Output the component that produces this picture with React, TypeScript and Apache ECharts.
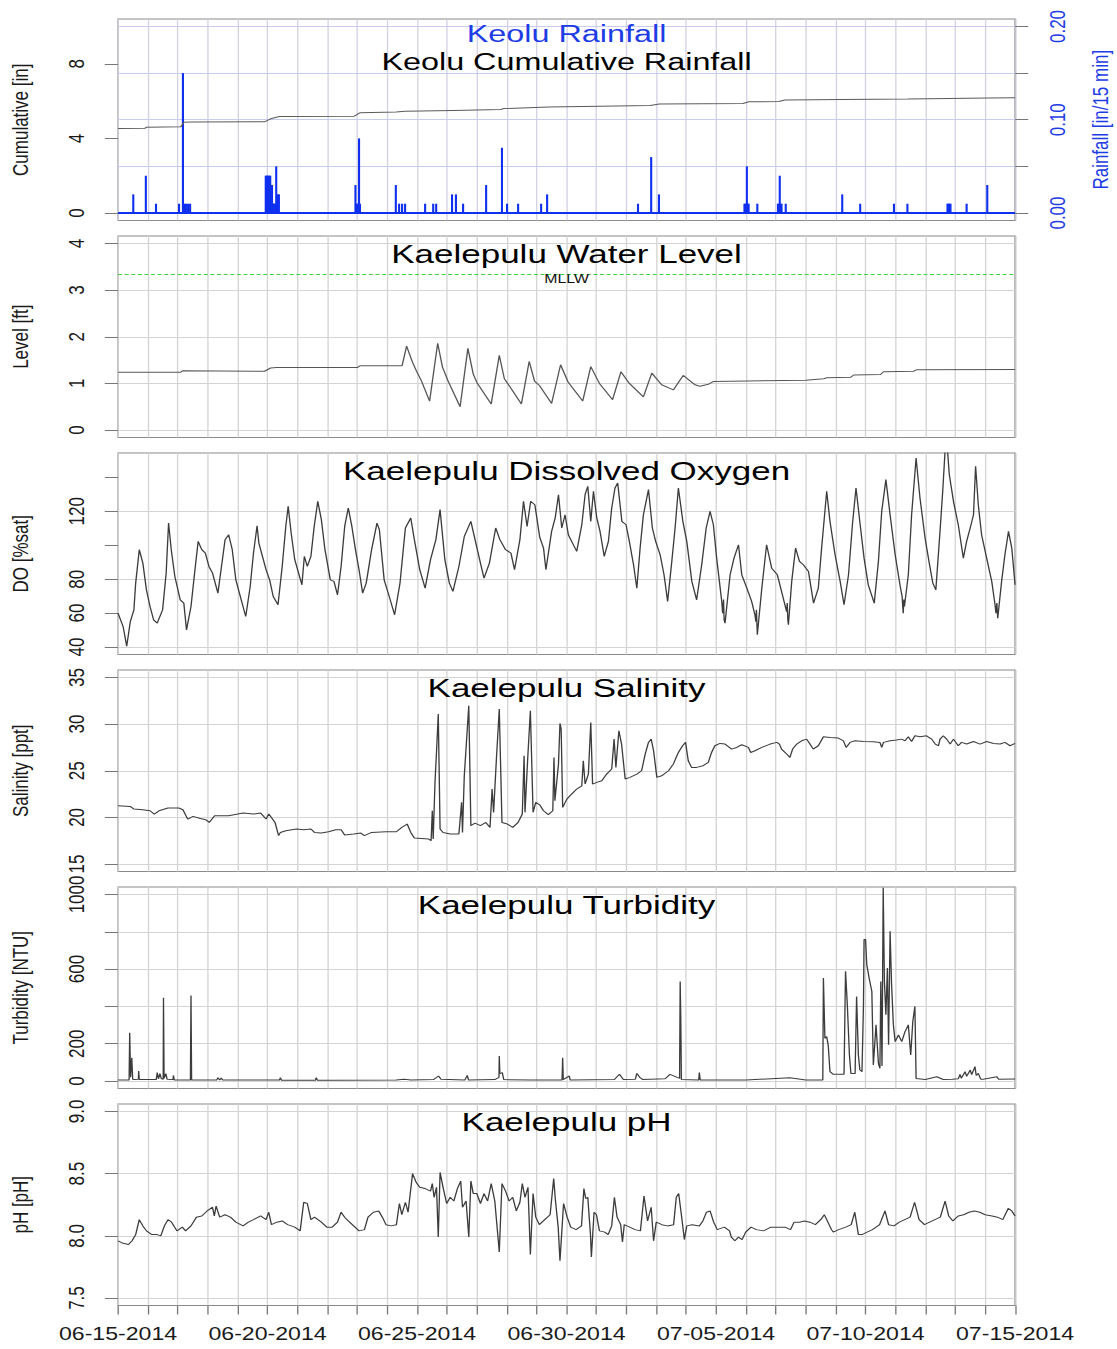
import React, { useEffect, useRef } from 'react';
import * as echarts from 'echarts';

// ---------------- data (x = days since 06-15-2014 00:00) ----------------
const dateLabels = ['06-15-2014', '06-20-2014', '06-25-2014', '06-30-2014', '07-05-2014', '07-10-2014', '07-15-2014'];
const dateLabelDays = [0, 5, 10, 15, 20, 25, 30];

const rainfall15min: [number, number][] = [
  [0.51, 0.02], [0.93, 0.04], [1.27, 0.01], [2.04, 0.01], [2.17, 0.15], [2.22, 0.01], [2.27, 0.01], [2.34, 0.01], [2.41, 0.01],
  [4.94, 0.04], [4.97, 0.04], [5.0, 0.04], [5.03, 0.04], [5.06, 0.04], [5.09, 0.04], [5.12, 0.03], [5.15, 0.03], [5.18, 0.01],
  [5.21, 0.01], [5.24, 0.01], [5.27, 0.01], [5.29, 0.05], [5.32, 0.01], [5.35, 0.02], [5.38, 0.02],
  [7.94, 0.03], [7.99, 0.01], [8.02, 0.01], [8.06, 0.08], [8.09, 0.01],
  [9.29, 0.03], [9.40, 0.01], [9.50, 0.01], [9.60, 0.01],
  [10.27, 0.01], [10.54, 0.01], [10.64, 0.01], [11.17, 0.02], [11.30, 0.02], [11.54, 0.01], [12.31, 0.03],
  [12.84, 0.07], [13.01, 0.01], [13.38, 0.01], [14.15, 0.01], [14.35, 0.02],
  [17.39, 0.01], [17.83, 0.06], [18.09, 0.02],
  [20.95, 0.01], [20.98, 0.01], [21.01, 0.01], [21.03, 0.05], [21.06, 0.01], [21.09, 0.01], [21.38, 0.01],
  [22.07, 0.01], [22.10, 0.01], [22.13, 0.04], [22.16, 0.01], [22.19, 0.01], [22.33, 0.01],
  [24.22, 0.02], [24.82, 0.01], [25.95, 0.01], [26.40, 0.01],
  [27.74, 0.01], [27.77, 0.01], [27.80, 0.01], [27.84, 0.01], [28.38, 0.01], [29.07, 0.03],
];

const cumulativeRain: [number, number][] = [
  [0, 4.53], [0.9, 4.54], [0.95, 4.60], [2.1, 4.62], [2.2, 4.86], [2.45, 4.88], [4.9, 4.89], [5.1, 5.05], [5.4, 5.17],
  [7.9, 5.19], [8.1, 5.38], [9.3, 5.42], [9.6, 5.45], [11.2, 5.50], [12.8, 5.55], [12.9, 5.60], [14.4, 5.68],
  [17.8, 5.76], [18.1, 5.84], [20.9, 5.87], [21.1, 5.96], [22.1, 5.98], [22.3, 6.06], [24.2, 6.09], [26.4, 6.11],
  [27.8, 6.14], [29.1, 6.17], [30, 6.18],
];

const waterLevel: [number, number][] = [
  [0, 1.24], [2.1, 1.24], [2.15, 1.27], [4.9, 1.26], [5.1, 1.33], [5.3, 1.34], [8.0, 1.34], [8.1, 1.38], [9.5, 1.38],
  [9.65, 1.80], [9.85, 1.45], [9.97, 1.28], [10.15, 1.05], [10.42, 0.62], [10.69, 1.86], [10.85, 1.35], [11.04, 1.05],
  [11.44, 0.50], [11.7, 1.75], [11.88, 1.20], [12.0, 1.02], [12.48, 0.56], [12.75, 1.60], [12.92, 1.10], [13.05, 0.98],
  [13.49, 0.56], [13.75, 1.47], [13.93, 1.05], [14.1, 0.95], [14.5, 0.57], [14.8, 1.40], [15.05, 1.03], [15.54, 0.62],
  [15.81, 1.36], [16.1, 1.0], [16.54, 0.65], [16.82, 1.25], [17.1, 1.0], [17.57, 0.71], [17.85, 1.22], [18.18, 0.97],
  [18.57, 0.86], [18.9, 1.17], [19.3, 0.97], [19.46, 0.94], [19.74, 0.98], [19.9, 1.04], [23.0, 1.07], [23.6, 1.10],
  [23.7, 1.12], [24.5, 1.13], [24.6, 1.18], [25.5, 1.19], [25.6, 1.25], [26.6, 1.26], [26.7, 1.29], [30, 1.30],
];
const mllwLevel = 3.33;

const dissolvedOxygen: [number, number][] = [
  [0.00, 60.0], [0.17, 52.1], [0.29, 40.5], [0.41, 55.0], [0.53, 61.9], [0.59, 77.7], [0.71, 97.4], [0.83, 89.5],
  [0.95, 73.7], [1.07, 63.9], [1.19, 56.0], [1.31, 54.1], [1.49, 61.9], [1.61, 83.6], [1.69, 113.1], [1.78, 97.4],
  [1.90, 81.6], [2.08, 67.8], [2.20, 65.9], [2.29, 50.1], [2.44, 63.9], [2.56, 83.6], [2.68, 102.3], [2.80, 97.4],
  [2.92, 95.4], [3.04, 87.5], [3.16, 83.6], [3.34, 71.8], [3.46, 87.5], [3.58, 103.3], [3.70, 106.2], [3.82, 97.4],
  [3.94, 79.6], [4.12, 67.8], [4.27, 58.0], [4.42, 75.7], [4.53, 95.4], [4.65, 111.5], [4.71, 101.3], [4.83, 93.4],
  [4.95, 85.6], [5.07, 79.6], [5.19, 69.8], [5.35, 64.9], [5.49, 87.5], [5.61, 111.1], [5.69, 123.0], [5.79, 107.2],
  [5.91, 91.5], [6.15, 76.7], [6.23, 93.4], [6.33, 87.5], [6.45, 93.4], [6.56, 111.1], [6.68, 125.9], [6.80, 115.1],
  [6.92, 97.4], [7.10, 79.6], [7.22, 78.7], [7.34, 70.8], [7.46, 87.5], [7.58, 111.1], [7.70, 122.0], [7.82, 111.1],
  [7.94, 97.4], [8.06, 85.6], [8.18, 71.8], [8.30, 77.7], [8.48, 97.4], [8.66, 113.1], [8.74, 109.2], [8.90, 79.6],
  [9.07, 69.8], [9.25, 59.0], [9.43, 77.7], [9.61, 110.2], [9.79, 116.1], [9.91, 103.3], [10.09, 85.6], [10.27, 74.7],
  [10.45, 91.5], [10.63, 103.3], [10.77, 121.0], [10.93, 91.5], [11.08, 77.7], [11.20, 72.8], [11.40, 87.5],
  [11.58, 105.2], [11.80, 114.1], [11.94, 103.3], [12.12, 89.5], [12.24, 80.6], [12.42, 89.5], [12.63, 110.2],
  [12.77, 103.3], [12.96, 97.4], [13.14, 95.4], [13.26, 85.6], [13.44, 103.3], [13.56, 125.9], [13.68, 111.1],
  [13.80, 125.9], [13.94, 123.9], [14.10, 105.0], [14.23, 98.3], [14.31, 85.6], [14.50, 108.2], [14.62, 116.1],
  [14.73, 129.8], [14.84, 110.2], [14.95, 118.0], [15.06, 106.2], [15.17, 102.3], [15.34, 96.4], [15.51, 112.1],
  [15.62, 129.8], [15.71, 134.8], [15.81, 114.1], [15.90, 131.8], [16.01, 116.1], [16.12, 108.2], [16.26, 93.4],
  [16.40, 102.3], [16.51, 122.0], [16.62, 133.8], [16.71, 136.7], [16.85, 114.1], [16.99, 112.1], [17.10, 102.3],
  [17.24, 88.5], [17.35, 74.7], [17.46, 98.3], [17.57, 118.0], [17.74, 132.8], [17.87, 110.2], [17.98, 102.3],
  [18.13, 94.4], [18.26, 82.6], [18.38, 66.9], [18.52, 90.5], [18.63, 110.2], [18.74, 133.8], [18.89, 114.1],
  [19.02, 102.3], [19.19, 78.7], [19.35, 67.8], [19.52, 88.5], [19.67, 110.2], [19.80, 120.0], [19.91, 112.1],
  [20.02, 92.4], [20.19, 66.9], [20.22, 60.0], [20.25, 68.0], [20.27, 56.0], [20.30, 54.1], [20.47, 82.6],
  [20.60, 92.4], [20.75, 100.3], [20.86, 82.6], [21.03, 74.7], [21.19, 66.9], [21.30, 59.0], [21.33, 55.0],
  [21.35, 62.0], [21.38, 47.2], [21.53, 74.7], [21.69, 100.3], [21.86, 86.5], [22.05, 82.6], [22.19, 72.8],
  [22.36, 60.9], [22.38, 66.0], [22.40, 56.0], [22.42, 53.1], [22.53, 78.7], [22.66, 98.3], [22.79, 90.5],
  [22.92, 88.5], [23.09, 84.6], [23.26, 65.9], [23.42, 74.7], [23.53, 98.3], [23.70, 131.8], [23.81, 114.1],
  [23.98, 94.4], [24.15, 78.7], [24.28, 64.9], [24.43, 82.6], [24.56, 112.1], [24.68, 133.8], [24.82, 112.1],
  [24.95, 92.4], [25.09, 76.7], [25.29, 65.9], [25.43, 90.5], [25.54, 120.0], [25.68, 138.7], [25.82, 118.0],
  [25.99, 94.4], [26.15, 76.7], [26.22, 70.0], [26.26, 60.0], [26.28, 68.0], [26.30, 63.9], [26.43, 82.6],
  [26.54, 118.0], [26.69, 151.5], [26.82, 127.9], [26.99, 104.3], [27.13, 89.5], [27.25, 77.7], [27.35, 73.7],
  [27.49, 108.2], [27.58, 131.8], [27.66, 156.0], [27.74, 156.0], [27.80, 141.7], [27.94, 125.9], [28.10, 112.1],
  [28.27, 92.4], [28.38, 102.3], [28.50, 110.2], [28.61, 118.0], [28.68, 146.6], [28.77, 123.9], [28.88, 106.2],
  [29.05, 92.4], [29.22, 78.7], [29.33, 64.9], [29.36, 60.0], [29.39, 66.0], [29.42, 57.0], [29.55, 78.7],
  [29.66, 94.4], [29.78, 108.2], [29.89, 98.3], [30.00, 76.7],
];

const salinity: [number, number][] = [
  [0.00, 21.25], [0.41, 21.18], [0.53, 20.89], [0.83, 20.82], [1.07, 20.71], [1.21, 20.36], [1.37, 20.71], [1.67, 21.0],
  [2.03, 21.0], [2.17, 20.82], [2.33, 19.82], [2.51, 20.11], [2.75, 19.89], [2.93, 19.75], [3.05, 19.46], [3.23, 20.18],
  [3.70, 20.18], [4.18, 20.46], [4.53, 20.36], [4.77, 20.46], [4.95, 19.82], [5.04, 20.36], [5.13, 20.0], [5.25, 19.46],
  [5.37, 18.04], [5.43, 18.39], [5.61, 18.57], [5.97, 18.75], [6.21, 18.68], [6.45, 18.75], [6.57, 18.39], [6.80, 18.32],
  [7.04, 18.46], [7.28, 18.68], [7.46, 18.68], [7.58, 18.11], [7.88, 18.21], [8.12, 18.32], [8.24, 18.04], [8.48, 18.39],
  [8.95, 18.46], [9.31, 18.46], [9.49, 18.93], [9.67, 19.29], [9.79, 18.39], [9.91, 17.79], [10.15, 17.75], [10.39, 17.68],
  [10.47, 17.5], [10.51, 20.71], [10.54, 17.68], [10.60, 23.75], [10.65, 26.96], [10.71, 31.07], [10.77, 18.75],
  [10.87, 18.39], [11.11, 18.21], [11.40, 18.21], [11.49, 21.61], [11.52, 18.39], [11.58, 24.46], [11.73, 31.96],
  [11.80, 19.11], [11.94, 19.39], [12.12, 19.11], [12.30, 19.46], [12.44, 18.93], [12.51, 23.04], [12.56, 20.54],
  [12.66, 26.61], [12.75, 31.61], [12.84, 19.46], [13.02, 19.29], [13.20, 18.93], [13.38, 19.46], [13.52, 20.36],
  [13.58, 26.61], [13.61, 20.54], [13.70, 26.25], [13.79, 31.43], [13.88, 20.54], [13.97, 21.61], [14.10, 21.35],
  [14.23, 20.71], [14.39, 20.29], [14.54, 20.71], [14.58, 26.43], [14.61, 21.79], [14.73, 25.71], [14.78, 30.07],
  [14.82, 29.46], [14.87, 21.07], [15.01, 21.96], [15.17, 22.5], [15.34, 23.04], [15.51, 23.39], [15.56, 26.07],
  [15.62, 23.57], [15.73, 24.64], [15.81, 30.18], [15.87, 23.57], [16.01, 23.75], [16.18, 23.93], [16.34, 24.64],
  [16.51, 25.18], [16.59, 28.39], [16.65, 25.36], [16.75, 29.29], [16.84, 27.86], [16.96, 24.11], [17.12, 24.29],
  [17.35, 24.64], [17.51, 25.0], [17.63, 26.79], [17.74, 28.04], [17.83, 28.39], [17.91, 27.14], [18.02, 24.29],
  [18.18, 24.46], [18.41, 25.0], [18.57, 25.71], [18.74, 26.96], [18.88, 27.68], [18.98, 28.04], [19.07, 26.07],
  [19.18, 25.36], [19.35, 25.36], [19.57, 25.54], [19.74, 25.89], [19.85, 26.96], [19.96, 27.68], [20.13, 27.93],
  [20.30, 27.86], [20.52, 27.32], [20.69, 27.5], [20.86, 27.79], [21.08, 27.5], [21.16, 26.96], [21.30, 27.14],
  [21.53, 27.5], [21.81, 27.86], [22.03, 28.04], [22.12, 27.86], [22.19, 27.32], [22.36, 26.79], [22.47, 26.43],
  [22.56, 27.32], [22.70, 27.86], [22.86, 28.21], [23.03, 28.39], [23.14, 27.86], [23.25, 27.32], [23.42, 27.68],
  [23.59, 28.64], [23.81, 28.57], [24.09, 28.5], [24.26, 28.21], [24.35, 27.5], [24.48, 28.04], [24.65, 28.21],
  [24.93, 28.14], [25.26, 28.11], [25.48, 28.04], [25.54, 27.5], [25.60, 28.04], [25.82, 28.21], [26.04, 28.29],
  [26.21, 28.39], [26.32, 28.21], [26.43, 28.64], [26.54, 28.14], [26.65, 28.75], [26.82, 28.64], [27.04, 28.75],
  [27.21, 28.39], [27.33, 27.86], [27.44, 27.68], [27.49, 28.39], [27.60, 28.75], [27.71, 28.39], [27.83, 27.86],
  [27.94, 28.39], [28.10, 27.68], [28.21, 28.04], [28.38, 27.86], [28.61, 28.14], [28.83, 27.86], [29.05, 28.14],
  [29.28, 27.93], [29.50, 27.86], [29.66, 28.04], [29.83, 27.68], [30.00, 27.93],
];

const turbidity: [number, number][] = [
  [0, 5], [0.37, 6], [0.39, 259], [0.42, 20], [0.46, 125], [0.49, 10], [0.55, 8], [0.68, 10], [0.69, 54], [0.71, 8],
  [1.28, 8], [1.31, 45], [1.35, 12], [1.40, 40], [1.45, 12], [1.51, 10], [1.52, 446], [1.54, 15], [1.60, 40], [1.64, 10],
  [1.84, 8], [1.85, 30], [1.88, 6], [2.42, 5], [2.44, 459], [2.46, 6], [3.30, 5], [3.34, 18], [3.40, 5], [3.45, 16],
  [3.50, 5], [5.40, 5], [5.43, 18], [5.47, 4], [6.60, 4], [6.63, 18], [6.67, 4], [7.0, 4], [9.3, 5], [9.56, 10], [9.8, 6],
  [10.55, 8], [10.72, 27], [10.8, 10], [11.6, 6], [11.68, 30], [11.72, 6], [12.6, 8], [12.74, 20], [12.75, 134],
  [12.77, 40], [12.85, 45], [12.9, 8], [13.8, 5], [14.4, 6], [14.85, 6], [14.87, 125], [14.89, 8], [15.09, 27],
  [15.12, 6], [16.6, 8], [16.77, 36], [16.9, 8], [17.3, 10], [17.35, 41], [17.45, 20], [17.55, 8], [18.3, 12],
  [18.46, 36], [18.78, 14], [18.80, 534], [18.82, 337], [18.84, 8], [19.42, 6], [19.44, 45], [19.47, 6], [21.0, 5],
  [22.47, 18], [23.0, 5], [23.57, 6], [23.59, 552], [23.64, 229], [23.70, 238], [23.75, 194], [23.81, 50], [23.92, 36],
  [24.28, 36], [24.33, 588], [24.39, 409], [24.46, 140], [24.51, 41], [24.65, 41], [24.70, 453], [24.76, 140],
  [24.81, 59], [24.88, 50], [24.93, 409], [24.95, 758], [25.00, 758], [25.04, 624], [25.13, 543], [25.21, 480],
  [25.26, 86], [25.35, 301], [25.43, 95], [25.48, 68], [25.51, 534], [25.55, 80], [25.59, 1036], [25.63, 534],
  [25.68, 355], [25.73, 606], [25.77, 194], [25.82, 803], [25.87, 516], [25.93, 301], [25.99, 211], [26.10, 247],
  [26.21, 211], [26.32, 265], [26.43, 301], [26.51, 140], [26.58, 319], [26.65, 400], [26.69, 14], [27.0, 8],
  [27.38, 23], [27.6, 8], [27.9, 10], [28.1, 12], [28.16, 36], [28.2, 15], [28.33, 50], [28.38, 25], [28.5, 59],
  [28.55, 35], [28.66, 77], [28.7, 30], [28.77, 41], [28.85, 10], [28.94, 10], [29.39, 23], [29.45, 10], [30.0, 11],
];

const ph: [number, number][] = [
  [0.00, 7.96], [0.17, 7.94], [0.35, 7.93], [0.47, 7.96], [0.59, 8.01], [0.71, 8.13], [0.83, 8.08], [0.95, 8.04],
  [1.13, 8.01], [1.31, 8.01], [1.43, 8.00], [1.55, 8.08], [1.67, 8.13], [1.79, 8.11], [1.97, 8.04], [2.15, 8.07],
  [2.26, 8.04], [2.44, 8.08], [2.62, 8.15], [2.80, 8.16], [2.98, 8.20], [3.16, 8.23], [3.22, 8.16], [3.28, 8.24],
  [3.40, 8.15], [3.58, 8.17], [3.76, 8.15], [3.94, 8.11], [4.18, 8.08], [4.36, 8.11], [4.53, 8.13], [4.77, 8.16],
  [4.95, 8.13], [5.04, 8.19], [5.13, 8.09], [5.31, 8.11], [5.49, 8.12], [5.67, 8.09], [5.91, 8.07], [6.09, 8.04],
  [6.21, 8.27], [6.33, 8.26], [6.45, 8.13], [6.57, 8.15], [6.80, 8.11], [6.98, 8.07], [7.16, 8.07], [7.34, 8.11],
  [7.46, 8.19], [7.58, 8.15], [7.70, 8.12], [7.88, 8.08], [8.06, 8.04], [8.24, 8.05], [8.36, 8.15], [8.54, 8.19],
  [8.72, 8.20], [8.84, 8.15], [8.96, 8.09], [9.13, 8.08], [9.31, 8.09], [9.41, 8.26], [9.49, 8.17], [9.61, 8.27],
  [9.70, 8.19], [9.85, 8.50], [9.97, 8.43], [10.09, 8.39], [10.27, 8.38], [10.45, 8.36], [10.51, 8.42], [10.57, 8.31],
  [10.65, 8.39], [10.71, 7.99], [10.77, 8.51], [10.87, 8.39], [10.99, 8.26], [11.11, 8.31], [11.23, 8.28],
  [11.35, 8.38], [11.46, 8.44], [11.52, 8.23], [11.64, 8.28], [11.73, 7.99], [11.80, 8.44], [11.88, 8.34],
  [12.00, 8.34], [12.12, 8.26], [12.24, 8.34], [12.36, 8.28], [12.48, 8.42], [12.60, 8.28], [12.75, 7.87],
  [12.84, 8.42], [12.96, 8.36], [13.08, 8.28], [13.20, 8.31], [13.32, 8.20], [13.44, 8.27], [13.52, 8.42],
  [13.61, 8.31], [13.71, 8.39], [13.79, 7.85], [13.88, 8.34], [13.97, 8.15], [14.09, 8.09], [14.27, 8.13],
  [14.45, 8.17], [14.57, 8.46], [14.63, 8.28], [14.72, 8.07], [14.78, 7.80], [14.90, 8.26], [15.02, 8.15],
  [15.14, 8.07], [15.32, 8.05], [15.50, 8.08], [15.58, 8.38], [15.64, 8.30], [15.71, 8.31], [15.80, 8.01],
  [15.83, 7.83], [15.92, 8.19], [16.00, 8.17], [16.10, 8.04], [16.28, 8.03], [16.39, 8.01], [16.51, 8.08],
  [16.60, 8.31], [16.69, 8.15], [16.81, 8.09], [16.87, 7.95], [16.93, 8.09], [17.11, 8.07], [17.29, 8.05],
  [17.47, 8.04], [17.59, 8.32], [17.71, 8.12], [17.83, 8.23], [17.91, 7.96], [18.00, 8.11], [18.19, 8.09],
  [18.37, 8.08], [18.58, 8.09], [18.67, 8.31], [18.75, 8.34], [18.84, 8.17], [18.94, 7.97], [19.02, 8.08],
  [19.20, 8.09], [19.44, 8.08], [19.56, 8.12], [19.68, 8.19], [19.80, 8.20], [19.92, 8.11], [20.04, 8.05],
  [20.28, 8.07], [20.45, 8.04], [20.51, 7.99], [20.63, 7.96], [20.75, 7.99], [20.87, 7.97], [20.99, 8.03],
  [21.17, 8.07], [21.35, 8.05], [21.59, 8.04], [21.83, 8.07], [22.07, 8.07], [22.31, 8.07], [22.49, 8.05],
  [22.61, 8.11], [22.78, 8.11], [22.96, 8.12], [23.14, 8.11], [23.32, 8.09], [23.50, 8.13], [23.62, 8.17],
  [23.74, 8.11], [23.86, 8.05], [23.92, 8.03], [24.10, 8.05], [24.34, 8.07], [24.52, 8.09], [24.64, 8.19],
  [24.76, 8.01], [24.88, 8.01], [25.05, 8.03], [25.23, 8.05], [25.47, 8.09], [25.65, 8.20], [25.77, 8.09],
  [25.95, 8.08], [26.13, 8.11], [26.31, 8.13], [26.49, 8.15], [26.64, 8.27], [26.79, 8.13], [26.97, 8.09],
  [27.14, 8.11], [27.32, 8.13], [27.50, 8.15], [27.66, 8.28], [27.78, 8.16], [27.92, 8.12], [28.10, 8.16],
  [28.28, 8.17], [28.46, 8.19], [28.64, 8.20], [28.82, 8.19], [29.00, 8.17], [29.23, 8.16], [29.41, 8.15],
  [29.59, 8.13], [29.77, 8.22], [29.89, 8.20], [30.00, 8.16],
];

// axis ticks / labels
const cumTicks = [0, 4, 8];
const rainTicks = [0, 0.05, 0.1, 0.15, 0.2];
const rainLabels = [0, 0.1, 0.2];
const levelTicks = [0, 1, 2, 3, 4];
const doTicks = [40, 60, 80, 100, 120, 140];
const doLabels = [40, 60, 80, 120];
const doGrid = [40, 80, 120];
const salTicks = [15, 20, 25, 30, 35];
const turbTicks = [0, 200, 400, 600, 800, 1000];
const turbLabels = [0, 200, 600, 1000];
const phTicks = [7.5, 8, 8.5, 9];

const panelTitles = [
  'Keolu Cumulative Rainfall',
  'Kaelepulu Water Level',
  'Kaelepulu Dissolved Oxygen',
  'Kaelepulu Salinity',
  'Kaelepulu Turbidity',
  'Kaelepulu pH',
];
const rainTitle = 'Keolu Rainfall';
const yNames = ['Cumulative [in]', 'Level [ft]', 'DO [%sat]', 'Salinity [ppt]', 'Turbidity [NTU]', 'pH [pH]'];
const rainAxisName = 'Rainfall [in/15 min]';

// ---------------- layout ----------------
const W = 846;
const H = 1349;
const SX = 1117 / W;
const PLOT_LEFT = 89.4;
const PLOT_W = 679.4;
const PLOT_CX = PLOT_LEFT + PLOT_W / 2;
const PANEL_TOPS = [19, 236, 453, 670, 887, 1104];
const PANEL_H = 201.5;
const FONT = '"Liberation Sans", Arial, Helvetica, sans-serif';
const TXT = '#1a1a1a';
const BLUE = '#1e3ce6';
const GRID_GRAY = '#d4d4d4';
const GRID_BLUE = '#c9ccef';
const BOX = '#8a8a8a';

function yAxisDef(gridIndex: number, min: number, max: number, ticks: number[], labels: number[], name: string,
  opts: { right?: boolean; color?: string; decimals?: number } = {}) {
  const color = opts.color || TXT;
  return {
    type: 'value', gridIndex, min, max,
    position: opts.right ? 'right' : 'left',
    name, nameLocation: 'middle', nameRotate: 90, nameGap: opts.right ? 56 : 66,
    nameTextStyle: { fontSize: 17, color, fontFamily: FONT },
    axisLine: { show: false },
    axisTick: { show: true, inside: false, length: 10, customValues: ticks, lineStyle: { color: '#777', width: 1 } },
    axisLabel: {
      show: true, customValues: labels, rotate: 90, margin: 23, fontSize: 17, color, fontFamily: FONT,
      formatter: (v: number) => (opts.decimals != null ? v.toFixed(opts.decimals) : String(v)),
    },
    splitLine: { show: false },
  };
}

function hLines(values: number[], color: string) {
  return values.map((v) => ({ yAxis: v, lineStyle: { color, width: 1, type: 'solid' } }));
}

export default function App() {
  const ref = useRef<HTMLDivElement>(null);

  useEffect(() => {
    if (!ref.current) return;
    document.body.style.overflow = 'hidden';
    const chart = echarts.init(ref.current, null, { renderer: 'svg' });

    const grids = PANEL_TOPS.map((t) => ({
      left: PLOT_LEFT, top: t, width: PLOT_W, height: PANEL_H,
      show: true, borderColor: BOX, borderWidth: 1, backgroundColor: 'transparent',
      containLabel: false, outerBoundsMode: 'none',
    }));

    const xAxes = PANEL_TOPS.map((_, i) => ({
      type: 'value', gridIndex: i, min: 0, max: 30, interval: 1,
      axisLine: { show: false },
      axisTick: { show: i === 5, inside: false, length: 9, lineStyle: { color: '#777' } },
      axisLabel: {
        show: i === 5, margin: 19, fontSize: 17.5, color: TXT, fontFamily: FONT,
        formatter: (v: number) => {
          const k = dateLabelDays.indexOf(Math.round(v * 1000) / 1000);
          return k >= 0 ? dateLabels[k] : '';
        },
      },
      splitLine: { show: true, lineStyle: { color: i === 0 ? '#d2d2e4' : GRID_GRAY, width: 1 } },
    }));

    const yAxes = [
      yAxisDef(0, -0.4, 10.4, cumTicks, cumTicks, yNames[0]),
      yAxisDef(0, -0.008, 0.208, rainTicks, rainLabels, rainAxisName, { right: true, color: BLUE, decimals: 2 }),
      yAxisDef(1, -0.16, 4.16, levelTicks, levelTicks, yNames[1]),
      yAxisDef(2, 35.6, 154.4, doTicks, doLabels, yNames[2]),
      yAxisDef(3, 14.2, 35.8, salTicks, salTicks, yNames[3]),
      yAxisDef(4, -40, 1040, turbTicks, turbLabels, yNames[4]),
      yAxisDef(5, 7.44, 9.06, phTicks, phTicks, yNames[5], { decimals: 1 }),
    ];

    const lineBase = {
      type: 'line', showSymbol: false, symbol: 'none', clip: true, z: 3,
      lineStyle: { width: 1, color: '#3c3c3c' }, animation: false, silent: true,
    };
    const mlBase = { silent: true, symbol: ['none', 'none'], label: { show: false }, z: 1, animation: false };

    const series: any[] = [
      { ...lineBase, name: 'cumulative', xAxisIndex: 0, yAxisIndex: 0, data: cumulativeRain, lineStyle: { width: 1, color: '#5a5a5a' } },
      {
        type: 'bar', name: 'rainfall', xAxisIndex: 0, yAxisIndex: 1, data: rainfall15min, barWidth: 1.6, z: 3,
        itemStyle: { color: '#1030f0' }, animation: false, silent: true,
        markLine: {
          ...mlBase,
          data: [
            ...hLines(rainTicks.slice(1), GRID_BLUE),
            { yAxis: 0, lineStyle: { color: '#1030f0', width: 2, type: 'solid' } },
          ],
        },
      },
      {
        ...lineBase, name: 'level', xAxisIndex: 1, yAxisIndex: 2, data: waterLevel, lineStyle: { width: 1, color: '#555' },
        markLine: {
          ...mlBase,
          data: [
            ...hLines(levelTicks, GRID_GRAY),
            { yAxis: mllwLevel, lineStyle: { color: '#3fd23f', width: 1, type: [3, 2] } },
          ],
        },
      },
      { ...lineBase, name: 'do', xAxisIndex: 2, yAxisIndex: 3, data: dissolvedOxygen, markLine: { ...mlBase, data: hLines(doGrid, GRID_GRAY) } },
      { ...lineBase, name: 'sal', xAxisIndex: 3, yAxisIndex: 4, data: salinity, markLine: { ...mlBase, data: hLines(salTicks, GRID_GRAY) } },
      { ...lineBase, name: 'turb', xAxisIndex: 4, yAxisIndex: 5, data: turbidity, markLine: { ...mlBase, data: hLines(turbTicks, GRID_GRAY) } },
      { ...lineBase, name: 'ph', xAxisIndex: 5, yAxisIndex: 6, data: ph, markLine: { ...mlBase, data: hLines(phTicks, GRID_GRAY) } },
    ];

    const titleY = PANEL_TOPS.map((t) => t + 18);
    const textStyle = (text: string, size: number, fill: string) => ({
      text, fontSize: size, fontFamily: FONT, fill,
      align: 'center', verticalAlign: 'middle', textAlign: 'center', textVerticalAlign: 'middle',
    });
    const graphic: any[] = [
      { type: 'text', x: PLOT_CX, y: 33, z: 10, style: textStyle(rainTitle, 24.5, BLUE) },
      { type: 'text', x: PLOT_CX, y: 61, z: 10, style: textStyle(panelTitles[0], 24.5, '#000') },
      ...panelTitles.slice(1).map((t, i) => ({ type: 'text', x: PLOT_CX, y: titleY[i + 1], z: 10, style: textStyle(t, 26.5, '#000') })),
      { type: 'text', x: PLOT_CX, y: 279, z: 10, style: textStyle('MLLW', 12, '#111') },
    ];

    chart.setOption({
      animation: false,
      backgroundColor: '#ffffff',
      grid: grids,
      xAxis: xAxes,
      yAxis: yAxes,
      series,
      graphic,
    });

    return () => {
      chart.dispose();
    };
  }, []);

  return (
    <div
      ref={ref}
      style={{
        position: 'absolute', left: 0, top: 0, width: W, height: H,
        transform: `scaleX(${SX})`, transformOrigin: '0 0', background: '#fff',
      }}
    />
  );
}
